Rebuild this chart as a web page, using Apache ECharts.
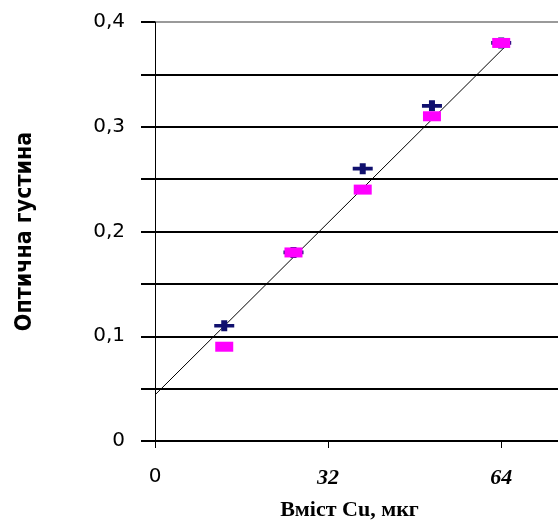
<!DOCTYPE html>
<html>
<head>
<meta charset="utf-8">
<script src="https://cdn.jsdelivr.net/npm/echarts@6/dist/echarts.min.js"></script>
<style>
  html, body { margin: 0; padding: 0; background: #fff; }
  #chart { width: 558px; height: 520px; }
</style>
</head>
<body>
<div id="chart"></div>
<script>
  // значення
  const xBlue = [12.8, 25.6, 38.4, 51.2, 64];
  const yBlue = [0.11, 0.18, 0.26, 0.32, 0.38];
  const xPink = [12.8, 25.6, 38.4, 51.2, 64];
  const yPink = [0.09, 0.18, 0.24, 0.31, 0.38];
  // лінія тренду
  const trendX = [0, 65.6];
  const trendY = [0.044, 0.381];
  const xTicks = [0, 32, 64];
  const yTicks = [0, 0.05, 0.1, 0.15, 0.2, 0.25, 0.3, 0.35, 0.4];
  const yLabelVals = [0, 0.1, 0.2, 0.3, 0.4];
  const yLabels = ['0', '0,1', '0,2', '0,3', '0,4'];

  const pairs = (xs, ys) => xs.map((x, i) => [x, ys[i]]);

  const chart = echarts.init(document.getElementById('chart'));

  const option = {
    animation: false,
    grid: { left: 155, top: 22, bottom: 79, right: 0, outerBoundsMode: 'none', containLabel: false },
    xAxis: {
      type: 'value',
      min: 0,
      max: 74.5,
      name: 'Вміст Cu, мкг',
      nameLocation: 'middle',
      nameGap: 58,
      nameTextStyle: {
        fontFamily: 'Liberation Serif',
        fontWeight: 'bold',
        fontSize: 22,
        color: '#000',
        padding: [0, 14, 0, 0]
      },
      axisLine: { lineStyle: { color: '#000', width: 2 } },
      axisTick: { show: true, length: 7, customValues: xTicks, lineStyle: { color: '#000', width: 1 } },
      splitLine: { show: false },
      axisLabel: {
        margin: 26,
        customValues: xTicks,
        formatter: v => v === 0 ? '{a|0}' : '{b|' + v + '}',
        rich: {
          a: { fontFamily: 'DejaVu Sans', fontSize: 20, color: '#000' },
          b: { fontFamily: 'Liberation Serif', fontStyle: 'italic', fontWeight: 'bold', fontSize: 22, color: '#000' }
        }
      }
    },
    yAxis: {
      type: 'value',
      min: 0,
      max: 0.4,
      interval: 0.05,
      name: 'Оптична густина',
      nameLocation: 'middle',
      nameGap: 118,
      nameTextStyle: {
        fontFamily: 'Liberation Sans Narrow, DejaVu Sans Condensed, Liberation Sans',
        fontWeight: 'bold',
        fontSize: 23,
        color: '#000'
      },
      axisLine: { show: true, lineStyle: { color: '#000', width: 1 } },
      axisTick: { show: true, length: 14, customValues: yTicks, lineStyle: { color: '#000', width: 2 } },
      axisLabel: {
        margin: 30,
        customValues: yLabelVals,
        fontFamily: 'DejaVu Sans',
        fontSize: 20,
        color: '#000',
        formatter: v => yLabels[Math.round(v * 10)]
      },
      splitLine: {
        show: true,
        lineStyle: {
          width: 2,
          color: ['#000', '#000', '#000', '#000', '#000', '#000', '#000', '#000', '#9a9a9a']
        }
      }
    },
    series: [
      {
        name: 'trend',
        type: 'line',
        data: pairs(trendX, trendY),
        symbol: 'none',
        lineStyle: { color: '#000', width: 1 },
        z: 2
      },
      {
        name: 'blue',
        type: 'scatter',
        data: pairs(xBlue, yBlue),
        symbol: 'path://M0,4 H7 V0 H13 V4 H20 V8 H13 V12 H7 V8 H0 Z',
        symbolSize: [20, 11],
        itemStyle: { color: '#10106e', opacity: 1 },
        z: 3
      },
      {
        name: 'pink',
        type: 'scatter',
        data: pairs(xPink, yPink),
        symbol: 'rect',
        symbolSize: [18, 10],
        itemStyle: { color: '#ff00ff', opacity: 1 },
        z: 4
      }
    ]
  };

  chart.setOption(option);
</script>
</body>
</html>
